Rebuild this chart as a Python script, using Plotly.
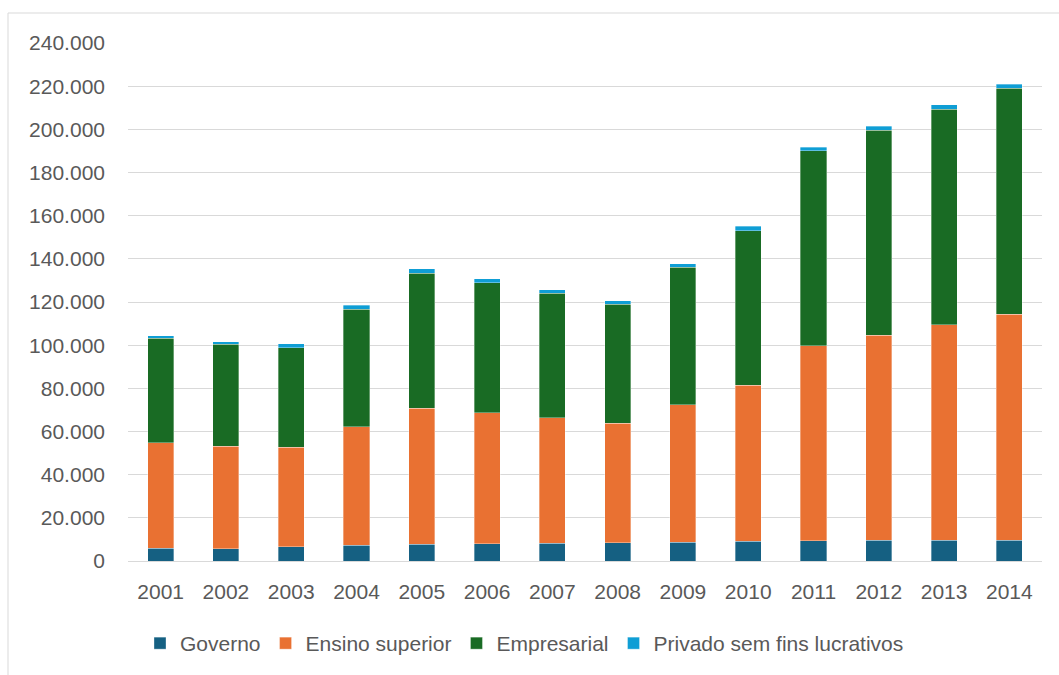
import plotly.graph_objects as go

anos = ["2001", "2002", "2003", "2004", "2005", "2006", "2007",
        "2008", "2009", "2010", "2011", "2012", "2013", "2014"]
governo = [6000, 5600, 6500, 7400, 7800, 7900, 8200, 8400, 8800, 9200, 9300, 9600, 9600, 9600]
ensino_superior = [48700, 47500, 46300, 54700, 63000, 60700, 58100, 55400, 63600, 72200,
                   90400, 95100, 99900, 104800]
empresarial = [48400, 47400, 46100, 54500, 62600, 60300, 57700, 55100, 63600, 71600,
               90300, 94800, 99900, 104600]
privado_sfl = [1200, 1100, 1700, 2000, 2000, 1900, 1700, 1700, 1800, 2000, 1700, 1900, 1900, 1900]

series = [
    ("Governo", governo, "#156082"),
    ("Ensino superior", ensino_superior, "#E97132"),
    ("Empresarial", empresarial, "#196B24"),
    ("Privado sem fins lucrativos", privado_sfl, "#0F9ED5"),
]

FONT = "Liberation Sans, Arial, sans-serif"
TXT = "#595959"
FS = 21

fig = go.Figure()
for name, vals, col in series:
    fig.add_trace(go.Bar(
        x=anos, y=vals, name=name,
        marker=dict(color=col, line=dict(color="rgba(255,255,255,0.45)", width=0.75)),
    ))

W, H = 1059, 675
L, R, T, B = 128, 17, 43, 114
pw, ph = W - L - R, H - T - B

def px(x):
    return (x - L) / pw

def py(y):
    return (H - B - y) / ph

fig.update_layout(
    width=W, height=H,
    margin=dict(l=L, r=R, t=T, b=B, autoexpand=False),
    barmode="stack",
    bargap=0.6,
    separators=",.",
    paper_bgcolor="white",
    plot_bgcolor="white",
    font=dict(family=FONT, size=FS, color=TXT),
    legend=dict(
        orientation="h",
        x=px(140), xanchor="left",
        y=py(623), yanchor="top",
        font=dict(size=FS, color=TXT),
        itemwidth=30,
        traceorder="normal",
    ),
    shapes=[dict(
        type="rect", xref="paper", yref="paper",
        x0=px(8), x1=px(1075), y0=py(700), y1=py(13),
        line=dict(color="#D9D9D9", width=1), fillcolor="rgba(0,0,0,0)",
        layer="below",
    )],
)
fig.update_xaxes(
    showgrid=False, showline=False, zeroline=False, automargin=False,
    tickfont=dict(size=FS, color=TXT),
    ticks="", ticklabelstandoff=16,
)
fig.update_yaxes(
    range=[0, 240000], dtick=20000, tickformat=",", automargin=False,
    showgrid=True, gridcolor="#D9D9D9", gridwidth=1.3,
    zeroline=True, zerolinecolor="#D9D9D9", zerolinewidth=1.3,
    showline=False,
    tickfont=dict(size=FS, color=TXT),
    ticks="", ticklabelstandoff=22,
)

fig.write_html("out.html")
